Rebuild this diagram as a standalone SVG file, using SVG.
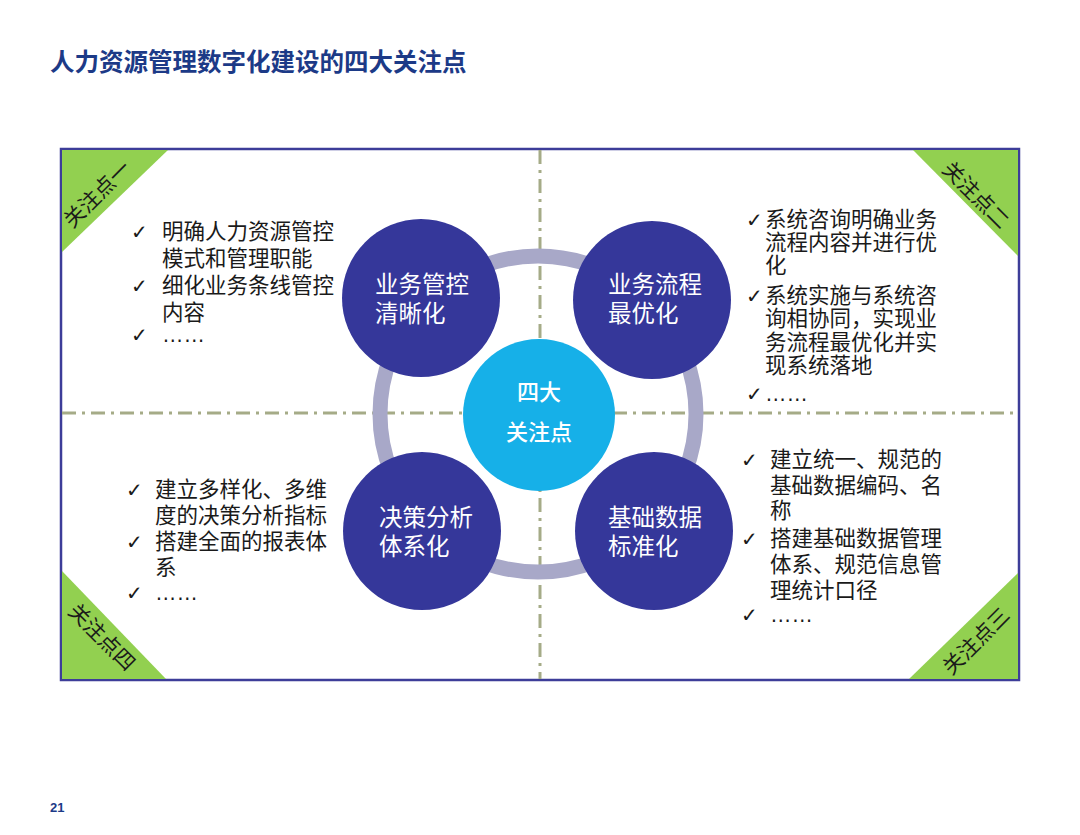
<svg xmlns="http://www.w3.org/2000/svg" width="1080" height="835" viewBox="0 0 1080 835">
<style>
.t{font-family:"Liberation Sans","Noto Sans CJK SC",sans-serif;}
.title{font-size:24.5px;font-weight:bold;fill:#1c3a87;}
.pg{font-size:13px;font-weight:bold;fill:#1c3a87;}
.lst{font-size:21.5px;fill:#1a1a1a;}
.chk{font-family:"DejaVu Sans",sans-serif;font-size:20px;fill:#1a1a1a;}
.tag{font-size:21px;fill:#1a1a1a;}
.ct{font-size:23.5px;fill:#ffffff;}
.cc{font-size:22px;fill:#ffffff;font-weight:500;}
.node{fill:#35379a;}
.guide{stroke:#a5ab87;stroke-width:3;stroke-dasharray:14 6 3 6;fill:none;}
.tri{fill:#92d050;}
</style>
<rect x="0" y="0" width="1080" height="835" fill="#ffffff"/>
<text class="t title" x="50" y="71">人力资源管理数字化建设的四大关注点</text>
<text class="t pg" x="50" y="812">21</text>

<g id="frame">
<rect x="61" y="149" width="958" height="531" fill="#ffffff" stroke="#3d3d99" stroke-width="2.5"/>
</g>

<g id="connectors">
<line class="guide" x1="540" y1="150" x2="540" y2="679"/>
<line class="guide" x1="62" y1="413" x2="1018" y2="413"/>
<circle cx="538" cy="414" r="158" fill="none" stroke="#a8a8c8" stroke-width="15"/>
</g>

<g id="tag1">
<polygon class="tri" points="62,150 168,150 62,252"/>
<text class="t tag" text-anchor="middle" dominant-baseline="central" transform="translate(97,194) rotate(-45)">关注点一</text>
</g>
<g id="tag2">
<polygon class="tri" points="913,150 1018,150 1018,256"/>
<text class="t tag" text-anchor="middle" dominant-baseline="central" transform="translate(976,195) rotate(45)">关注点二</text>
</g>
<g id="tag3">
<polygon class="tri" points="1018,573 1018,679 909,679"/>
<text class="t tag" text-anchor="middle" dominant-baseline="central" transform="translate(976,641) rotate(-45)">关注点三</text>
</g>
<g id="tag4">
<polygon class="tri" points="62,571 62,679 166,679"/>
<text class="t tag" text-anchor="middle" dominant-baseline="central" transform="translate(102,637) rotate(45)">关注点四</text>
</g>

<g id="node-tl">
<circle class="node" cx="421" cy="298" r="79"/>
<text class="t ct" x="375" y="293">业务管控</text>
<text class="t ct" x="375" y="322">清晰化</text>
</g>
<g id="node-tr">
<circle class="node" cx="652" cy="300" r="79"/>
<text class="t ct" x="608" y="293">业务流程</text>
<text class="t ct" x="608" y="322">最优化</text>
</g>
<g id="node-bl">
<circle class="node" cx="422" cy="531" r="79"/>
<text class="t ct" x="379" y="526">决策分析</text>
<text class="t ct" x="379" y="555">体系化</text>
</g>
<g id="node-br">
<circle class="node" cx="654" cy="531" r="79"/>
<text class="t ct" x="608" y="526">基础数据</text>
<text class="t ct" x="608" y="555">标准化</text>
</g>
<g id="node-center">
<circle cx="539" cy="415" r="76" fill="#16b0e8"/>
<text class="t cc" x="539" y="400" text-anchor="middle">四大</text>
<text class="t cc" x="539" y="440" text-anchor="middle">关注点</text>
</g>

<g id="list-tl">
<text class="chk" x="131" y="239">✓</text>
<text class="chk" x="131" y="293">✓</text>
<text class="chk" x="131" y="342">✓</text>
<text class="t lst" x="162" y="239">明确人力资源管控</text>
<text class="t lst" x="162" y="266">模式和管理职能</text>
<text class="t lst" x="162" y="293">细化业务条线管控</text>
<text class="t lst" x="162" y="320">内容</text>
<text class="t lst" x="162" y="342">……</text>
</g>
<g id="list-tr">
<text class="chk" x="746" y="227">✓</text>
<text class="chk" x="746" y="303">✓</text>
<text class="chk" x="746" y="401">✓</text>
<text class="t lst" x="765" y="227">系统咨询明确业务</text>
<text class="t lst" x="765" y="250">流程内容并进行优</text>
<text class="t lst" x="765" y="273">化</text>
<text class="t lst" x="765" y="303">系统实施与系统咨</text>
<text class="t lst" x="765" y="326">询相协同，实现业</text>
<text class="t lst" x="765" y="350">务流程最优化并实</text>
<text class="t lst" x="765" y="373">现系统落地</text>
<text class="t lst" x="765" y="401">……</text>
</g>
<g id="list-bl">
<text class="chk" x="126" y="497">✓</text>
<text class="chk" x="126" y="549">✓</text>
<text class="chk" x="126" y="600">✓</text>
<text class="t lst" x="155" y="497">建立多样化、多维</text>
<text class="t lst" x="155" y="523">度的决策分析指标</text>
<text class="t lst" x="155" y="549">搭建全面的报表体</text>
<text class="t lst" x="155" y="575">系</text>
<text class="t lst" x="155" y="600">……</text>
</g>
<g id="list-br">
<text class="chk" x="741" y="467">✓</text>
<text class="chk" x="741" y="546">✓</text>
<text class="chk" x="741" y="622">✓</text>
<text class="t lst" x="770" y="467">建立统一、规范的</text>
<text class="t lst" x="770" y="493">基础数据编码、名</text>
<text class="t lst" x="770" y="518">称</text>
<text class="t lst" x="770" y="546">搭建基础数据管理</text>
<text class="t lst" x="770" y="572">体系、规范信息管</text>
<text class="t lst" x="770" y="598">理统计口径</text>
<text class="t lst" x="770" y="622">……</text>
</g>
</svg>
